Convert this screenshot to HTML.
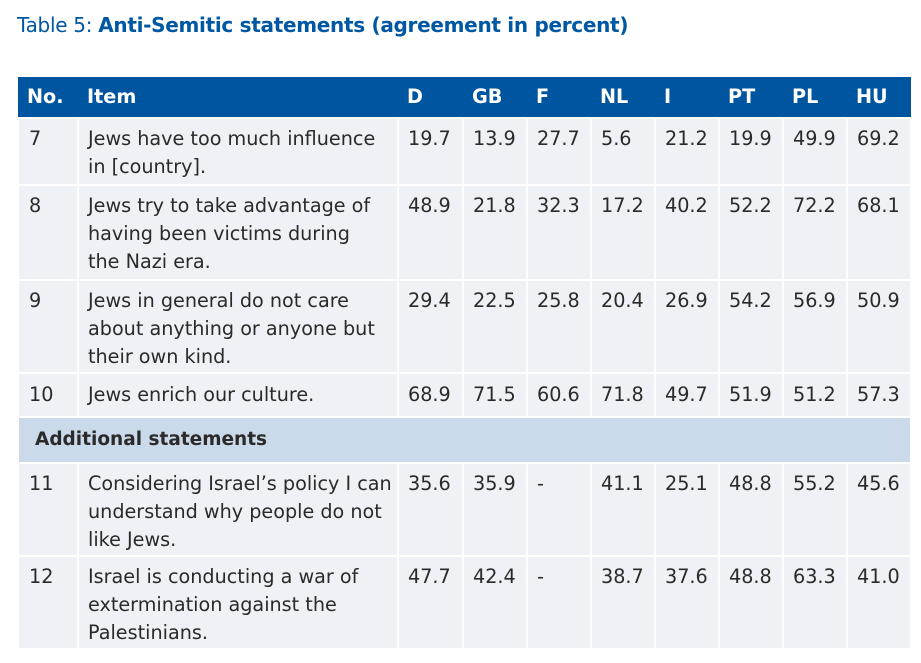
<!DOCTYPE html><html><head><style>
body{margin:0;width:921px;height:663px;background:#fff;font-family:"DejaVu Sans","Liberation Sans",sans-serif;color:#2a2a2a;position:relative;overflow:hidden}
.t{position:absolute;left:17px;top:13px;font-size:20px;color:#0057a2;letter-spacing:-0.3px}
.t b{font-weight:bold}
table{position:absolute;left:17px;top:77px;border-collapse:collapse;font-size:19.2px;letter-spacing:0px;table-layout:fixed;width:893px}
td,th{padding:0 0 0 9px;vertical-align:top;text-align:left;border:2px solid #fff;line-height:28px;white-space:nowrap;overflow:hidden}
th{background:#0055a0;color:#fff;font-weight:bold;height:40px;vertical-align:middle;border:0}
td{background:#eef1f5;padding-top:6px;padding-bottom:3px}
td:first-child{padding-left:10px}
tr.add td{background:#cadaea;font-weight:bold;padding-top:8px;padding-bottom:8px;font-size:18.5px}
tr.r10 td{padding-top:7px;padding-bottom:7px}
tr.s td{padding-bottom:1px}
</style></head><body>
<div class="t">Table 5: <b>Anti-Semitic statements (agreement in percent)</b></div>
<table>
<colgroup><col style="width:60px"><col style="width:320px"><col style="width:65px"><col style="width:64px"><col style="width:64px"><col style="width:64px"><col style="width:64px"><col style="width:64px"><col style="width:64px"><col style="width:64px"></colgroup>
<tr><th>No.</th><th>Item</th><th>D</th><th>GB</th><th>F</th><th>NL</th><th>I</th><th>PT</th><th>PL</th><th>HU</th></tr>
<tr><td>7</td><td>Jews have too much influence<br>in [country].</td><td>19.7</td><td>13.9</td><td>27.7</td><td>5.6</td><td>21.2</td><td>19.9</td><td>49.9</td><td>69.2</td></tr>
<tr><td>8</td><td>Jews try to take advantage of<br>having been victims during<br>the Nazi era.</td><td>48.9</td><td>21.8</td><td>32.3</td><td>17.2</td><td>40.2</td><td>52.2</td><td>72.2</td><td>68.1</td></tr>
<tr class="s"><td>9</td><td>Jews in general do not care<br>about anything or anyone but<br>their own kind.</td><td>29.4</td><td>22.5</td><td>25.8</td><td>20.4</td><td>26.9</td><td>54.2</td><td>56.9</td><td>50.9</td></tr>
<tr class="r10"><td>10</td><td>Jews enrich our culture.</td><td>68.9</td><td>71.5</td><td>60.6</td><td>71.8</td><td>49.7</td><td>51.9</td><td>51.2</td><td>57.3</td></tr>
<tr class="add"><td colspan="10" style="padding-left:16px">Additional statements</td></tr>
<tr class="s"><td>11</td><td>Considering Israel’s policy I can<br>understand why people do not<br>like Jews.</td><td>35.6</td><td>35.9</td><td>-</td><td>41.1</td><td>25.1</td><td>48.8</td><td>55.2</td><td>45.6</td></tr>
<tr class="s"><td>12</td><td>Israel is conducting a war of<br>extermination against the<br>Palestinians.</td><td>47.7</td><td>42.4</td><td>-</td><td>38.7</td><td>37.6</td><td>48.8</td><td>63.3</td><td>41.0</td></tr>
</table>
</body></html>
